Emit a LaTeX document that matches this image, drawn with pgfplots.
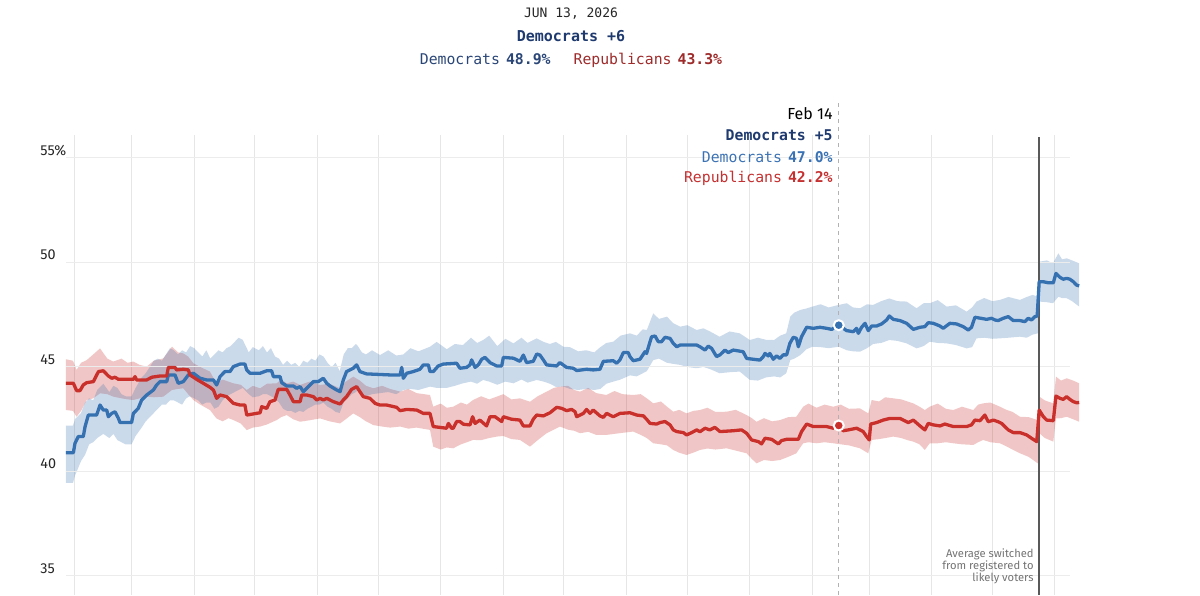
\documentclass[border=0pt]{standalone}
\usepackage{fontspec}
\setmainfont{Fira Sans}
\newfontfamily\mono{DejaVu Sans Mono}
\usepackage{pgfplots}
\pgfplotsset{compat=1.18}
\usepackage{pgfplotstable}
\usepgfplotslibrary{fillbetween}
\definecolor{demline}{HTML}{3570B0}
\definecolor{repline}{HTML}{C9302C}
\definecolor{navy}{HTML}{1E3A6E}
\definecolor{demtxt}{HTML}{3B72B4}
\definecolor{reptxt}{HTML}{C53030}
\definecolor{demdark}{HTML}{2A4677}
\definecolor{repdark}{HTML}{9E2A2A}
\definecolor{gridc}{HTML}{E6E6E6}

\pgfplotstableread{
d v
26.5 40.90
30.2 40.90
31.0 41.35
32.6 41.67
35.1 41.67
36.0 42.15
37.6 42.70
41.7 42.70
43.4 43.18
45.0 42.94
46.7 42.94
47.5 42.62
49.2 42.78
50.8 42.86
52.5 42.54
53.3 42.34
59.0 42.34
59.9 42.78
62.3 43.02
64.0 43.42
66.5 43.66
69.8 43.90
71.4 44.14
73.1 44.30
76.4 44.30
77.2 44.62
80.5 44.62
82.1 44.22
84.6 44.30
87.1 44.62
89.6 44.70
92.9 44.46
96.2 44.38
99.5 44.38
101.1 44.14
102.8 44.54
105.2 44.78
107.7 44.78
109.4 45.02
112.7 45.14
115.1 45.14
116.0 44.86
117.6 44.70
122.6 44.70
125.9 44.82
128.3 44.82
129.2 44.54
132.5 44.54
133.3 44.25
135.8 44.09
139.1 44.09
140.7 43.98
142.4 44.06
144.0 43.82
145.7 43.98
149.0 44.30
151.4 44.30
153.9 44.46
155.6 44.22
157.2 44.09
160.5 43.90
162.2 43.82
163.8 44.38
165.4 44.78
168.7 44.94
170.4 45.10
172.0 44.78
175.3 44.67
186.9 44.62
191.9 44.62
192.7 44.98
193.5 44.46
195.2 44.70
198.4 44.78
201.7 44.89
203.4 45.10
205.9 45.10
206.7 44.78
208.3 44.78
210.8 45.05
213.3 45.14
219.9 45.18
221.5 44.94
224.8 44.98
226.5 45.10
227.3 45.34
229.0 44.98
230.6 45.10
232.3 45.37
233.9 45.46
236.4 45.21
239.7 45.05
242.2 45.05
243.0 45.46
248.0 45.42
251.2 45.27
252.9 45.57
254.5 45.21
257.8 45.27
259.5 45.62
261.1 45.57
262.8 45.34
264.4 45.10
269.4 45.05
271.0 45.21
274.3 44.98
277.6 44.94
279.3 44.83
284.2 44.89
287.5 44.86
290.8 44.89
292.5 45.27
297.4 45.30
299.1 45.18
300.7 45.34
302.4 45.69
304.8 45.69
305.7 45.49
307.3 45.30
310.6 45.37
313.1 45.73
313.9 45.65
315.6 46.21
316.4 46.45
318.1 46.48
319.7 46.21
321.3 46.21
323.0 46.42
325.5 46.37
327.1 46.13
328.8 45.97
330.5 46.05
338.7 46.05
340.3 45.97
342.8 45.81
344.4 46.00
346.1 45.89
348.5 45.50
350.2 45.58
352.7 45.81
354.3 45.69
356.8 45.81
361.7 45.73
363.4 45.41
370.0 45.33
371.6 45.49
372.5 45.65
374.1 45.53
374.9 45.65
376.6 45.37
378.2 45.53
379.9 45.41
381.5 45.58
383.2 45.58
384.8 46.13
386.5 46.42
388.1 46.37
389.0 45.97
390.6 46.45
393.1 46.90
396.4 46.85
399.7 46.90
403.0 46.85
405.5 46.80
409.0 47.00
412.9 46.74
416.2 46.69
417.8 46.85
418.7 46.61
420.3 46.90
422.0 47.09
423.6 46.74
425.3 46.96
427.7 46.96
430.2 47.06
432.7 47.25
434.0 47.44
436.0 47.28
439.3 47.22
442.6 47.09
445.9 46.80
449.2 46.90
451.6 46.93
453.3 47.12
455.8 47.09
459.1 46.96
460.7 46.85
464.0 47.09
467.3 47.06
470.6 46.93
473.1 46.77
474.7 46.90
476.4 47.38
482.2 47.28
484.6 47.33
486.3 47.25
487.9 47.22
490.4 47.33
492.9 47.41
495.4 47.22
498.7 47.22
501.1 47.17
502.8 47.33
504.4 47.25
506.1 47.41
507.2 47.44
508.2 49.08
510.2 49.08
512.7 49.03
515.2 49.03
516.5 49.48
518.5 49.29
520.1 49.20
521.8 49.24
523.4 49.20
525.1 49.08
526.7 48.92
528.0 48.88
}\demtab

\pgfplotstableread{
d v
26.5 44.22
30.2 44.22
31.8 43.87
33.5 43.87
35.1 44.14
36.8 44.25
40.1 44.30
42.6 44.78
45.0 44.82
47.5 44.57
49.2 44.46
50.8 44.51
52.5 44.41
59.9 44.41
60.7 44.54
61.5 44.38
66.5 44.38
69.0 44.51
73.1 44.57
76.4 44.57
77.2 44.98
80.5 44.98
81.3 44.86
84.6 44.89
87.1 44.86
87.9 44.62
91.2 44.41
94.5 44.22
97.8 44.03
99.5 43.90
101.1 43.50
102.8 43.66
106.1 43.58
109.4 43.26
112.7 43.18
115.1 43.18
116.0 42.70
122.6 42.81
123.4 43.10
125.9 43.02
127.5 43.34
130.0 43.42
131.6 43.93
135.8 43.93
137.4 43.66
139.1 43.34
142.4 43.34
143.2 43.66
145.7 43.66
149.0 43.58
150.6 43.42
152.3 43.50
153.9 43.42
155.6 43.50
158.9 43.34
162.2 43.23
163.8 43.42
165.4 43.58
167.9 43.93
170.4 44.06
172.0 43.82
173.7 43.58
177.0 43.50
179.5 43.26
181.9 43.18
185.2 43.18
190.2 43.07
191.9 42.91
195.2 42.97
200.1 42.94
203.4 42.78
206.7 42.78
208.3 42.15
214.9 42.07
215.8 42.30
217.4 42.07
218.2 42.07
219.9 42.39
221.5 42.39
223.2 42.26
226.5 42.23
227.8 42.62
229.0 42.30
231.4 42.46
234.7 42.18
236.4 42.62
238.9 42.62
242.2 42.39
243.0 42.62
247.1 42.50
251.2 42.46
252.9 42.18
256.2 42.18
257.8 42.50
259.5 42.70
262.8 42.66
266.1 42.81
269.4 43.07
271.9 43.02
274.3 42.91
276.8 42.97
278.5 42.86
279.3 42.62
282.6 42.78
284.2 42.97
285.9 42.78
287.5 42.94
290.8 42.66
292.5 42.59
294.1 42.78
297.4 42.62
300.7 42.78
305.7 42.81
309.0 42.70
312.3 42.66
313.9 42.50
315.6 42.30
318.9 42.27
320.5 42.34
323.0 42.39
325.5 42.23
327.1 41.99
328.8 41.91
332.1 41.86
333.7 41.75
336.2 41.86
338.7 41.99
340.3 41.90
342.8 42.07
345.2 41.99
347.7 42.11
350.2 41.91
356.8 41.95
360.9 41.99
363.4 41.83
365.9 41.51
369.2 41.43
370.8 41.32
372.5 41.59
375.8 41.54
377.4 41.43
379.1 41.32
380.7 41.48
383.2 41.54
389.0 41.54
390.6 41.91
393.1 42.27
396.4 42.15
403.0 42.15
406.3 42.07
409.0 42.20
411.2 41.95
413.7 41.99
417.8 42.07
421.1 41.91
422.8 41.67
424.1 41.51
424.8 42.27
427.7 42.34
431.0 42.46
434.3 42.54
439.3 42.54
440.9 42.46
443.4 42.34
445.9 42.46
449.2 42.18
451.6 41.99
453.3 42.30
455.8 42.23
459.1 42.18
461.5 42.27
465.7 42.15
472.3 42.15
474.7 42.23
476.4 42.46
478.9 42.43
481.3 42.70
483.0 42.38
485.5 42.46
487.9 42.38
489.6 42.30
492.9 41.99
495.4 41.86
498.7 41.86
502.0 41.75
504.4 41.59
507.0 41.43
508.2 42.94
510.2 42.63
511.9 42.46
515.2 42.43
516.5 43.61
518.5 43.50
520.1 43.45
521.8 43.58
523.4 43.45
525.1 43.34
526.7 43.29
528.0 43.30
}\reptab

\pgfplotstableread{
d lo hi
26.5 39.45 42.20
30.0 39.45 42.20
31.0 39.80 42.50
34.0 40.50 42.80
36.0 40.80 43.30
38.0 41.30 43.50
40.0 41.40 43.40
42.0 41.60 43.90
45.0 41.80 44.20
48.0 41.60 43.80
50.0 41.80 44.10
52.0 41.50 44.00
54.0 41.40 43.70
56.0 41.30 43.60
59.0 41.30 43.60
61.0 41.70 44.00
64.0 42.10 44.50
66.0 42.40 44.70
68.0 42.60 45.00
70.0 42.80 45.30
72.0 43.00 45.40
74.0 43.20 45.30
76.0 43.20 45.60
78.0 43.40 45.90
80.0 43.40 45.80
82.0 43.30 45.60
84.0 43.20 45.80
86.0 43.50 45.70
88.0 43.60 46.00
90.0 43.50 45.90
92.0 43.40 45.70
94.0 43.20 45.50
96.0 43.30 45.80
98.0 43.30 45.40
100.0 43.00 45.60
102.0 43.10 45.80
104.0 43.40 45.70
106.0 43.60 45.90
108.0 43.70 46.00
110.0 43.80 46.20
112.0 43.90 46.40
114.0 44.00 46.30
117.0 43.70 45.70
119.0 43.55 45.95
122.0 43.60 45.80
124.0 43.70 46.00
126.0 43.70 45.70
128.0 43.60 45.90
130.0 43.50 45.50
132.0 43.30 45.40
134.0 43.00 45.10
136.0 42.90 45.30
138.0 42.90 45.10
140.0 42.80 45.20
142.0 42.90 45.00
144.0 42.85 45.30
146.0 43.00 45.20
148.0 43.10 45.40
150.0 43.20 45.30
152.0 43.20 45.60
154.0 43.30 45.50
156.0 43.10 45.20
158.0 43.00 45.00
160.0 42.85 45.20
162.0 42.80 44.80
164.0 43.30 45.60
166.0 43.50 45.90
168.0 43.70 45.90
170.0 43.80 46.10
171.0 43.90 46.00
173.0 43.70 45.70
175.0 43.60 45.60
178.0 43.70 45.80
182.0 43.75 45.57
186.0 43.80 45.80
190.0 43.70 45.55
193.5 43.90 45.60
197.0 43.95 45.90
201.0 43.90 45.75
206.7 44.06 45.97
210.0 44.00 46.20
215.0 44.00 45.85
219.0 44.10 46.10
223.0 44.22 46.05
227.0 44.30 46.40
230.0 44.20 46.15
233.0 44.38 46.29
236.0 44.30 46.50
240.0 44.15 46.00
244.0 44.30 46.35
248.0 44.22 46.13
252.0 44.40 46.40
255.0 44.25 46.15
259.5 44.38 46.37
263.0 44.30 46.20
266.0 44.20 46.10
269.0 44.05 46.20
272.7 44.06 45.97
276.0 43.95 45.95
280.0 43.90 45.75
284.0 43.95 45.80
288.0 43.90 45.70
291.0 43.95 45.95
294.0 44.20 46.15
297.4 44.30 46.21
301.0 44.40 46.50
305.7 44.60 46.61
309.0 44.55 46.50
312.0 44.70 46.80
314.0 44.80 46.77
317.2 45.33 47.57
320.0 45.40 47.30
324.0 45.20 47.41
327.0 45.15 47.10
330.5 45.10 46.93
334.0 45.00 47.00
338.7 44.94 46.77
342.0 45.00 46.85
345.3 44.90 46.70
350.0 44.70 46.45
355.0 44.75 46.70
360.0 44.78 46.61
365.0 44.38 46.29
369.0 44.35 46.40
373.0 44.50 46.30
377.0 44.55 46.29
380.0 44.50 46.50
383.0 44.70 46.61
385.0 45.33 47.41
387.0 45.40 47.60
390.0 45.57 47.73
393.0 45.85 47.80
396.0 45.97 47.89
400.0 45.95 48.00
404.0 45.90 47.85
409.0 45.97 47.97
413.0 45.80 48.05
416.0 45.75 47.85
419.5 45.73 47.81
423.0 45.90 48.00
426.0 46.10 47.97
430.0 46.15 48.15
434.0 46.29 48.28
438.0 46.25 48.15
442.6 46.13 48.13
447.5 45.89 47.81
451.0 46.00 48.05
454.0 46.21 48.05
458.0 46.15 48.20
462.4 46.13 47.89
467.0 46.05 47.95
472.3 45.89 47.65
475.0 45.95 47.85
477.2 46.37 48.13
481.0 46.40 48.30
485.0 46.35 48.15
488.8 46.37 48.21
493.0 46.40 48.35
498.7 46.45 48.21
502.0 46.40 48.35
505.0 46.55 48.45
507.5 46.61 48.36
508.3 48.13 50.04
512.0 48.10 50.10
515.0 48.05 49.96
517.7 48.36 50.44
519.5 48.30 50.15
521.8 48.29 50.20
524.5 48.15 50.10
528.0 47.89 49.96
}\demband

\pgfplotstableread{
d lo hi
26.5 42.94 45.37
30.0 42.90 45.30
31.8 42.62 44.86
34.0 42.90 45.20
36.8 43.42 45.33
40.0 43.50 45.60
43.4 43.74 45.89
47.0 43.70 45.40
50.0 43.58 45.26
54.0 43.50 45.40
57.0 43.45 45.20
59.9 43.42 45.26
63.0 43.50 45.10
66.5 43.58 45.02
70.0 43.55 45.30
74.7 43.58 45.41
79.0 43.90 45.97
82.0 43.95 45.70
84.6 43.98 45.65
87.0 43.70 45.50
89.6 43.42 45.18
93.0 43.20 45.00
97.8 42.94 44.78
101.0 42.54 44.22
104.0 42.40 44.40
107.0 42.55 44.30
109.4 42.46 44.22
113.0 42.30 44.15
116.0 41.98 43.90
119.0 42.10 44.10
122.6 42.15 43.98
126.0 42.25 44.20
130.8 42.46 44.22
133.0 42.60 44.40
135.8 42.70 44.22
139.0 42.50 44.30
142.4 42.38 44.14
147.0 42.45 44.30
152.3 42.54 44.14
157.0 42.40 44.20
162.2 42.30 43.98
165.0 42.50 44.30
168.7 42.78 44.54
172.0 42.60 44.35
175.0 42.40 44.10
178.7 42.22 43.98
183.0 42.15 44.10
187.0 42.10 43.95
192.0 42.15 43.82
196.0 42.05 43.95
200.0 42.10 43.75
206.7 41.99 43.66
208.3 41.19 43.10
212.0 41.05 43.25
215.0 41.15 43.05
218.2 41.11 43.10
222.0 41.30 43.30
225.0 41.40 43.20
228.0 41.51 43.42
232.0 41.50 43.60
236.0 41.60 43.45
239.7 41.67 43.58
243.0 41.70 43.70
247.0 41.55 43.45
251.2 41.51 43.50
256.2 41.19 43.34
260.0 41.50 43.60
264.4 41.83 43.82
268.0 42.00 44.00
271.0 42.15 44.06
275.0 42.00 44.10
278.0 41.95 43.90
281.0 41.83 43.82
285.0 41.90 44.00
289.0 41.75 43.75
294.0 41.75 43.66
298.0 41.80 43.85
302.0 41.85 43.70
307.3 41.91 43.66
311.0 41.75 43.70
314.0 41.60 43.50
317.2 41.35 43.26
321.0 41.30 43.35
324.0 41.25 43.10
327.1 41.03 42.86
330.0 40.90 42.95
333.7 40.79 42.78
337.0 40.90 42.90
340.3 41.03 42.94
344.0 41.10 43.05
348.0 41.05 42.85
353.5 41.11 42.86
358.0 41.00 42.95
363.4 40.87 42.70
366.0 40.60 42.55
368.3 40.39 42.38
372.0 40.55 42.55
376.0 40.50 42.40
380.0 40.55 42.46
384.0 40.70 42.60
388.0 40.87 42.62
391.4 41.35 43.10
394.0 41.40 43.25
398.0 41.35 43.05
402.0 41.40 43.20
406.3 41.35 43.10
410.0 41.30 43.20
414.0 41.25 43.00
419.5 41.11 43.02
423.6 40.87 42.78
425.3 41.51 43.42
429.0 41.55 43.35
432.0 41.60 43.55
436.0 41.67 43.50
440.0 41.60 43.45
443.0 41.50 43.35
445.9 41.43 43.26
449.0 41.30 43.10
451.6 41.03 42.94
454.0 41.35 43.10
458.0 41.35 43.25
462.0 41.40 43.00
465.7 41.35 42.94
470.0 41.30 43.10
475.6 41.27 42.94
478.0 41.40 43.20
480.5 41.51 43.26
484.0 41.40 43.30
488.8 41.35 43.10
492.0 41.20 42.95
495.0 41.05 42.85
498.7 40.87 42.62
503.0 40.70 42.60
507.5 40.39 42.46
508.3 41.83 43.58
511.0 41.60 43.40
515.2 41.43 43.26
516.5 42.54 44.54
519.0 42.55 44.35
521.8 42.62 44.46
525.0 42.50 44.35
528.0 42.38 44.22
}\repband

\begin{document}
\begin{tikzpicture}
\begin{axis}[
  at={(32.95pt,-297.5pt)}, anchor=south west,
  scale only axis, width=507.15pt, height=230pt,
  xmin=26.5, xmax=528.5, ymin=34.09, ymax=56.1,
  clip=false,
  axis line style={draw=none},
  major tick length=0pt,
  xtick={31,59,90,120,151,181,212,243,273,304,334,365,396,424,455,485,516},
  xticklabels={},
  xmajorgrids,
  grid style={gridc, line width=0.5pt},
  ytick={35,40,45,50,55},
  yticklabels={35,40,45,50,55\%},
  yticklabel style={font=\fontsize{7.2}{8}\selectfont, anchor=base west, inner sep=0pt, xshift=-12.95pt, yshift=1.4pt, text=black!85},
]
\foreach \yy in {35,40,45,50,55} {
  \edef\tmp{\noexpand\draw[gridc!75, line width=0.5pt] (axis cs:26.5,\yy) -- (axis cs:523.4,\yy);}
  \tmp
}
\addplot[draw=none, name path=rhi, forget plot] table[x=d,y=hi]{\repband};
\addplot[draw=none, name path=rlo, forget plot] table[x=d,y=lo]{\repband};
\addplot[fill=repline, fill opacity=0.27, draw=none, forget plot] fill between[of=rhi and rlo];
\addplot[draw=none, name path=bhi, forget plot] table[x=d,y=hi]{\demband};
\addplot[draw=none, name path=blo, forget plot] table[x=d,y=lo]{\demband};
\addplot[fill=demline, fill opacity=0.26, draw=none, forget plot] fill between[of=bhi and blo];
\draw[black!30, dash pattern=on 2pt off 2pt, line width=0.5pt] (axis cs:409,57.63) -- (axis cs:409,34.09);
\draw[black!65, line width=0.6pt] (axis cs:508.1,56.0) -- (axis cs:508.1,34.09);
\addplot[demline, line width=1.65pt, line join=round, mark=none] table[x=d,y=v]{\demtab};
\addplot[repline, line width=1.65pt, line join=round, mark=none] table[x=d,y=v]{\reptab};
\addplot[only marks, mark=*, mark size=2.5pt, mark options={fill=demline, draw=white, line width=1pt}] coordinates {(409,47.0)};
\addplot[only marks, mark=*, mark size=2.5pt, mark options={fill=repline, draw=white, line width=1pt}] coordinates {(409,42.2)};
\end{axis}
\pgfresetboundingbox
\path[use as bounding box] (0,0) rectangle (600pt,-297.5pt);
% header
\node[font=\mono\fontsize{6.5}{8}\selectfont, text=black!85] at (285.5pt,-7pt) {JUN 13, 2026};
\node[font=\mono\bfseries\fontsize{7.5}{9}\selectfont, text=navy] at (285.5pt,-17.85pt) {Democrats +6};
\node[font=\mono\fontsize{7.4}{9}\selectfont] at (285.5pt,-30pt) {\textcolor{demdark}{Democrats\hspace{3pt}\textbf{48.9\%}}\hspace{11.5pt}\textcolor{repdark}{Republicans\hspace{3pt}\textbf{43.3\%}}};
% hover annotation
\node[anchor=east, font=\fontsize{8}{9}\selectfont, text=black, inner sep=0pt] at (416.5pt,-57pt) {Feb 14};
\node[anchor=east, font=\mono\bfseries\fontsize{7.4}{9}\selectfont, text=navy, inner sep=0pt] at (416.5pt,-67.5pt) {Democrats +5};
\node[anchor=east, font=\mono\fontsize{7.4}{9}\selectfont, text=demtxt, inner sep=0pt] at (416.5pt,-78.35pt) {Democrats\hspace{3pt}\textbf{47.0\%}};
\node[anchor=east, font=\mono\fontsize{7.4}{9}\selectfont, text=reptxt, inner sep=0pt] at (416.5pt,-89.15pt) {Republicans\hspace{3pt}\textbf{42.2\%}};
% switch note
\node[anchor=east, font=\fontsize{5.6}{6}\selectfont, text=black!55, inner sep=0pt] at (517pt,-277pt) {Average switched};
\node[anchor=east, font=\fontsize{5.6}{6}\selectfont, text=black!55, inner sep=0pt] at (517pt,-283pt) {from registered to};
\node[anchor=east, font=\fontsize{5.6}{6}\selectfont, text=black!55, inner sep=0pt] at (517pt,-289pt) {likely voters};
\end{tikzpicture}
\end{document}
